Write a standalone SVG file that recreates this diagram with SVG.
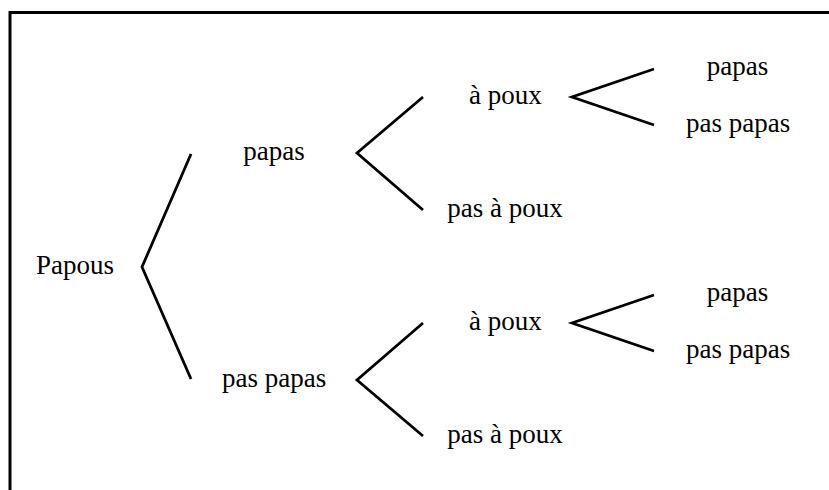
<svg xmlns="http://www.w3.org/2000/svg" width="829" height="490" viewBox="0 0 829 490">
<rect width="829" height="490" fill="#fff"/>
<path d="M10,490 V12.5 H829" fill="none" stroke="#000" stroke-width="3"/>
<g id="connectors" fill="none" stroke="#000" stroke-width="2.8">
<polyline points="191,154 142,267 191,379"/>
<polyline points="423,97 357,153 423,210"/>
<polyline points="423,323 357,380 423,436"/>
<polyline points="654,69 572,97 654,125"/>
<polyline points="654,295 572,323 654,351"/>
</g>
<g id="n-papous"><text x="36" y="274" font-size="27" font-family="Liberation Serif">Papous</text></g>
<g id="n-papas"><text x="243.3" y="160" font-size="27" font-family="Liberation Serif">papas</text></g>
<g id="n-paspapas"><text x="222" y="387" font-size="27" font-family="Liberation Serif">pas papas</text></g>
<g id="n-apoux1"><text x="469" y="104" font-size="27" font-family="Liberation Serif">à poux</text></g>
<g id="n-pasapoux1"><text x="447.3" y="217" font-size="27" font-family="Liberation Serif">pas à poux</text></g>
<g id="n-apoux2"><text x="469" y="330" font-size="27" font-family="Liberation Serif">à poux</text></g>
<g id="n-pasapoux2"><text x="447.3" y="443" font-size="27" font-family="Liberation Serif">pas à poux</text></g>
<g id="n-papas1"><text x="706.8" y="75" font-size="27" font-family="Liberation Serif">papas</text></g>
<g id="n-paspapas1"><text x="686" y="132" font-size="27" font-family="Liberation Serif">pas papas</text></g>
<g id="n-papas2"><text x="706.8" y="301" font-size="27" font-family="Liberation Serif">papas</text></g>
<g id="n-paspapas2"><text x="686" y="358" font-size="27" font-family="Liberation Serif">pas papas</text></g>
</svg>
